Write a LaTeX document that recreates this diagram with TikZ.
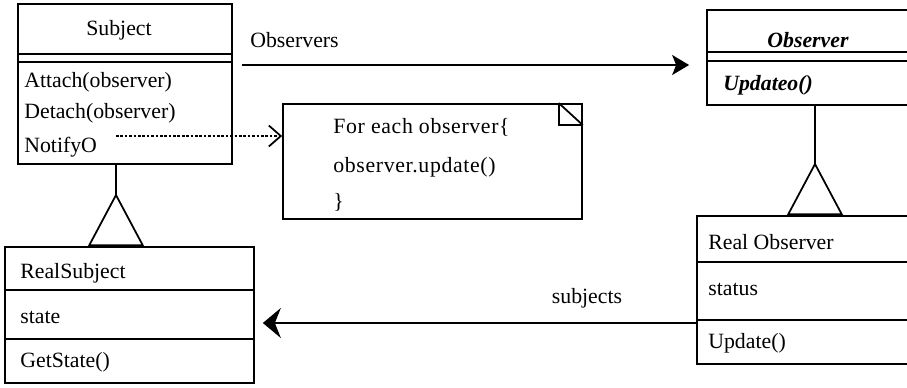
\documentclass[tikz,border=0pt]{standalone}
\usepackage{fontspec}
\setmainfont{Liberation Serif}
\usetikzlibrary{arrows.meta,calc,positioning}

\tikzset{
  umlbox/.style={draw,line width=1pt,inner sep=0pt,rectangle},
  umltext/.style={anchor=west,inner sep=0pt,font=\fontsize{12.4}{15}\selectfont},
  umlrule/.style={line width=1pt},
  inherit/.style={line width=1pt,-{Triangle[open,reversed,length=1.06cm,width=1.12cm]}},
}

\begin{document}
\begin{tikzpicture}[x=0.02cm,y=-0.02cm]
\useasboundingbox (0,0) rectangle (907,387);
% classes
\node[umlbox,minimum width=4.28cm,minimum height=3.2cm] (subject) at (125,84) {};
\node[umlbox,minimum width=4.98cm,minimum height=2.72cm] (realsubj) at (129.5,315) {};
\node[umlbox,minimum width=5.98cm,minimum height=2.3cm] (note) at (432.5,161.5) {};
\node[umlbox,minimum width=4.26cm,minimum height=1.9cm] (observer) at (813.5,57.5) {};
\node[umlbox,minimum width=4.46cm,minimum height=2.96cm] (realobs) at (808.5,290) {};

% subject
\node[umltext,anchor=center] (subjname) at (119,30) {Subject};
\draw[umlrule] (subject.west |- 0,54) -- (subject.east |- 0,54);
\draw[umlrule] (subject.west |- 0,62) -- (subject.east |- 0,62);
\node[umltext] (attach) at (24,82) {Attach(observer)};
\node[umltext] (detach) at (24,113) {Detach(observer)};
\node[umltext] (notify) at (24,147) {NotifyO};

% real subject
\node[umltext] (rsname) at (20,273) {RealSubject};
\draw[umlrule] (realsubj.west |- 0,290) -- (realsubj.east |- 0,290);
\node[umltext] (state) at (20,317) {state};
\draw[umlrule] (realsubj.west |- 0,339) -- (realsubj.east |- 0,339);
\node[umltext] (getstate) at (20,362) {GetState()};

% note
\node[umltext] (loop1) at (333,127) {\addfontfeature{LetterSpace=3}For each observer\{};
\node[umltext] (loop2) at (333,167) {\addfontfeature{LetterSpace=3}observer.update()};
\node[umltext] (loop3) at (333,202) {\}};
\draw[umlrule] ($(note.north east)+(-24,0)$) -- ++(0,22) -- ++(24,0);
\draw[umlrule] ($(note.north east)+(-24,0)$) -- ($(note.north east)+(0,22)$);

% observer
\node[umltext,anchor=center,font=\fontsize{12.4}{15}\selectfont\bfseries\itshape] (obsname) at (808,40) {Observer};
\draw[umlrule] (observer.west |- 0,52) -- (observer.east |- 0,52);
\draw[umlrule] (observer.west |- 0,61) -- (observer.east |- 0,61);
\node[umltext,font=\fontsize{12.4}{15}\selectfont\bfseries\itshape] (updo) at (723,85) {Updateo()};

% real observer
\node[umltext] (roname) at (708,242) {Real Observer};
\draw[umlrule] (realobs.west |- 0,262) -- (realobs.east |- 0,262);
\node[umltext] (status) at (708,289) {status};
\draw[umlrule] (realobs.west |- 0,320) -- (realobs.east |- 0,320);
\node[umltext] (update) at (708,343) {Update()};

% connectors
\coordinate (subjfoot) at (116,164);
\coordinate (obsfoot) at (815,105);
\draw[inherit] (subjfoot) -- (subjfoot |- realsubj.north);
\draw[inherit] (obsfoot) -- (obsfoot |- realobs.north);

\coordinate (notifyend) at (116,136);
\draw[line width=1pt,dash pattern=on 1.5pt off 1pt,-{Straight Barb[length=0.24cm,width=0.42cm]}]
  (notifyend) -- (note.west |- notifyend);

\coordinate (obsstart) at (242,65);
\draw[line width=1pt,-{Stealth[length=0.34cm,width=0.4cm,inset=0.08cm]},shorten >=0.34cm]
  (obsstart) -- (observer.west |- obsstart);
\node[umltext] (obslabel) at (250,40) {Observers};

\coordinate (subjstart) at (697,323);
\draw[line width=1pt,-{Stealth[length=0.36cm,width=0.6cm,inset=0.12cm]},shorten >=0.16cm]
  (subjstart) -- (realsubj.east |- subjstart);
\node[umltext,anchor=center] (subjlabel) at (587,298) {subjects};
\end{tikzpicture}
\end{document}
